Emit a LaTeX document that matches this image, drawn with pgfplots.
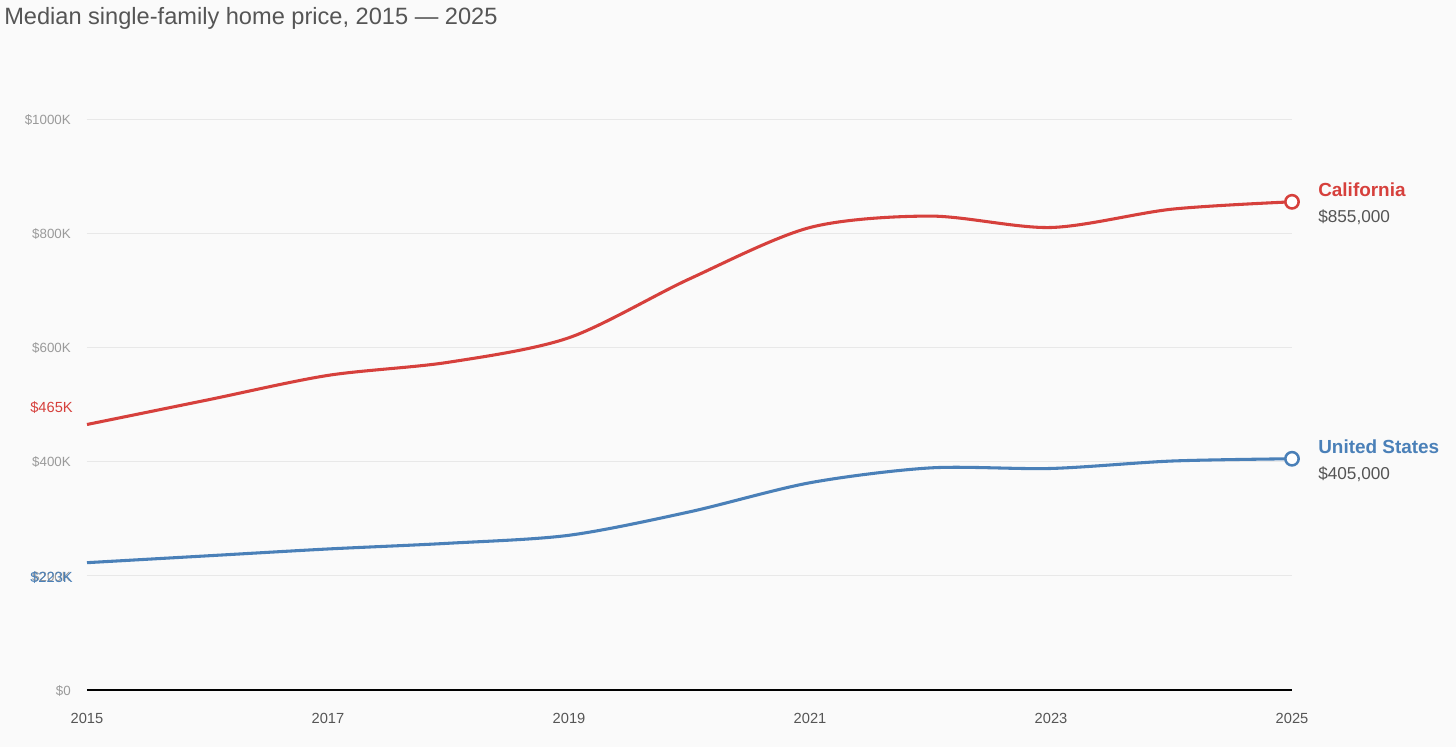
\documentclass[border=0pt]{standalone}
\usepackage{pgfplots}
\pgfplotsset{compat=1.18}
\usepackage{fontspec}
\setmainfont{Liberation Sans}

\definecolor{bgcol}{HTML}{FAFAFA}
\definecolor{cared}{HTML}{D6403C}
\definecolor{usblue}{HTML}{4A80B8}
\definecolor{gridcol}{HTML}{E8E8E8}
\definecolor{ticktext}{HTML}{9A9A9A}
\definecolor{darktext}{HTML}{555555}

% yearly medians
\pgfplotstableread{
year price
2015 465000
2016 508000
2017 551000
2018 574000
2019 617000
2020 720000
2021 810000
2022 830000
2023 810000
2024 842000
2025 855000
}\california
\pgfplotstableread{
year price
2015 223000
2016 235000
2017 247000
2018 257000
2019 271000
2020 312000
2021 363000
2022 389000
2023 388000
2024 401000
2025 405000
}\unitedstates

\begin{document}
\begin{tikzpicture}[x=0.75pt,y=-0.75pt]
\fill[bgcol] (0,0) rectangle (1456,747);
\useasboundingbox (0,0) rectangle (1456,747);

\node[anchor=west,inner sep=0pt,text=darktext,font=\fontsize{17.7pt}{20pt}\selectfont] at (4,18.5) {Median single-family home price, 2015 — 2025};

\begin{axis}[
    at={(65.25pt,-517.5pt)}, anchor=south west,
    scale only axis, width=903.75pt, height=428.25pt,
    xmin=2015, xmax=2025, ymin=0, ymax=1000000,
    axis x line*=bottom, axis y line*=left,
    x axis line style={black, line width=0.9pt, -},
    y axis line style={draw=none},
    major tick style={draw=none},
    ymajorgrids, grid style={gridcol, line width=0.75pt},
    ytick={0,200000,400000,600000,800000,1000000},
    yticklabels={\$0,\$200K,\$400K,\$600K,\$800K,\$1000K},
    xtick={2015,2017,2019,2021,2023,2025},
    xticklabels={2015,2017,2019,2021,2023,2025},
    yticklabel style={font=\fontsize{10pt}{11pt}\selectfont, text=ticktext, inner sep=0pt, xshift=-12pt, yshift=-0.6pt},
    xticklabel style={font=\fontsize{11pt}{13pt}\selectfont, text=darktext, inner sep=0pt, yshift=-17pt},
    scaled y ticks=false,
    clip=false,
]
\addplot[cared, line width=2.3pt, smooth, mark=none] table[x=year,y=price] {\california};
\addplot[usblue, line width=2.3pt, smooth, mark=none] table[x=year,y=price] {\unitedstates};
\addplot[cared, line width=1.9pt, only marks, mark=*, mark size=5pt, mark options={fill=white}] coordinates {(2025,855000)};
\addplot[usblue, line width=1.9pt, only marks, mark=*, mark size=5pt, mark options={fill=white}] coordinates {(2025,405000)};
\end{axis}

\node[anchor=east,inner sep=0pt,text=cared,font=\fontsize{11pt}{12pt}\selectfont] at (73,407.5) {\$465K};
\node[anchor=east,inner sep=0pt,text=usblue,font=\fontsize{11pt}{12pt}\selectfont] at (73,577.5) {\$223K};

\node[anchor=west,inner sep=0pt,text=cared,font=\bfseries\fontsize{14.2pt}{16pt}\selectfont] at (1318,190) {California};
\node[anchor=west,inner sep=0pt,text=darktext,font=\fontsize{12.9pt}{15pt}\selectfont] at (1318,217) {\$855,000};
\node[anchor=west,inner sep=0pt,text=usblue,font=\bfseries\fontsize{14.2pt}{16pt}\selectfont] at (1318,447) {United States};
\node[anchor=west,inner sep=0pt,text=darktext,font=\fontsize{12.9pt}{15pt}\selectfont] at (1318,474) {\$405,000};
\end{tikzpicture}
\end{document}
